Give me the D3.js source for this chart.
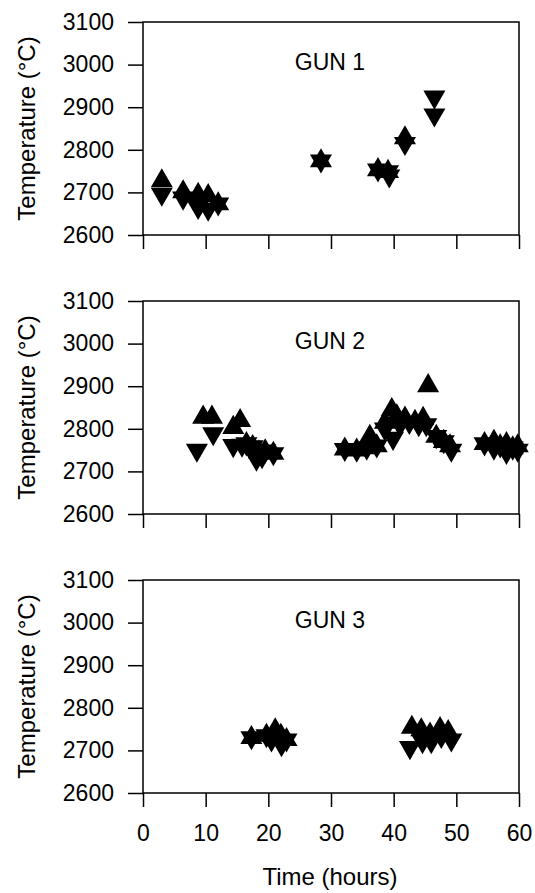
<!DOCTYPE html>
<html>
<head>
<meta charset="utf-8">
<script src="https://cdn.jsdelivr.net/npm/d3@7"></script>
<style>
    body { margin: 0; background: #fff; }
    text { font-family: "Liberation Sans", Arial, sans-serif; fill: #000; }
</style>
</head>
<body>
<div id="chart"></div>
<script>
// tick values
const timeTicks = [0, 10, 20, 30, 40, 50, 60];
const tempTicks = [2600, 2700, 2800, 2900, 3000, 3100];
const gunNames = ["GUN 1", "GUN 2", "GUN 3"];

// [time (h), temperature (C)] -- upward / downward triangles
const gun1Up = [[3.0, 2727], [6.4, 2701], [8.8, 2695], [10.4, 2692], [12.0, 2673],
    [28.4, 2774], [37.5, 2753], [39.1, 2749], [41.8, 2828]];
const gun1Down = [[3.0, 2696], [6.4, 2687], [8.8, 2665], [10.4, 2661], [12.0, 2673],
    [28.4, 2774], [37.5, 2753], [39.1, 2749], [39.3, 2739], [41.8, 2815], [46.5, 2924], [46.5, 2882]];

const gun2Up = [[9.6, 2827], [11.0, 2827], [14.4, 2803], [15.5, 2819], [16.5, 2765], [17.5, 2758],
    [18.5, 2745], [19.5, 2748], [20.8, 2742],
    [32.2, 2752], [34.1, 2750], [35.7, 2755], [36.2, 2782], [37.3, 2760], [38.6, 2815], [39.7, 2845],
    [40.5, 2830], [41.8, 2825], [43.4, 2817], [44.7, 2824], [45.5, 2901], [46.8, 2782], [48.0, 2770], [49.0, 2760],
    [54.5, 2765], [56.0, 2770], [57.0, 2760], [58.0, 2765], [59.0, 2755], [59.8, 2760]];
const gun2Down = [[8.6, 2750], [11.2, 2789], [14.4, 2761], [15.8, 2762], [16.5, 2765], [17.5, 2758],
    [18.1, 2729], [19.0, 2735], [19.5, 2748], [20.8, 2742],
    [32.2, 2752], [34.1, 2750], [35.7, 2755], [37.3, 2760], [38.6, 2800], [39.9, 2778], [41.0, 2810],
    [42.5, 2815], [44.0, 2810], [45.2, 2810], [46.8, 2782], [48.0, 2770], [49.2, 2750],
    [54.5, 2765], [56.0, 2755], [57.0, 2760], [58.0, 2745], [59.0, 2755], [59.8, 2750]];

const gun3Up = [[17.3, 2730], [19.7, 2735], [21.1, 2748], [22.0, 2735], [22.9, 2725],
    [42.9, 2754], [44.4, 2748], [45.8, 2738], [47.4, 2751], [48.7, 2744]];
const gun3Down = [[17.3, 2730], [19.7, 2735], [20.5, 2725], [22.1, 2714], [22.9, 2725],
    [42.6, 2707], [44.6, 2721], [46.0, 2721], [47.6, 2733], [49.2, 2725]];

const upSeries = [gun1Up, gun2Up, gun3Up];
const downSeries = [gun1Down, gun2Down, gun3Down];

const W = 535, H = 893;
const left = 143, right = 519;
const panelTops = [22, 301, 580];
const panelH = 213;

const svg = d3.select("#chart")
    .append("svg")
    .attr("width", W)
    .attr("height", H);

const x = d3.scaleLinear().domain([0, 60]).range([left, right]);
const tri = d3.symbol().type(d3.symbolTriangle).size(210);

panelTops.forEach((top, i) => {
    const y = d3.scaleLinear().domain([2600, 3100]).range([top + panelH, top]);
    const last = i === panelTops.length - 1;
    const g = svg.append("g").attr("class", "panel");

    // frame
    g.append("rect")
        .attr("x", left)
        .attr("y", top)
        .attr("width", right - left)
        .attr("height", panelH)
        .attr("fill", "none")
        .attr("stroke", "#000")
        .attr("stroke-width", 1.5);

    const yAxis = d3.axisLeft(y)
        .tickValues(tempTicks)
        .tickSize(15)
        .tickSizeOuter(0)
        .tickPadding(14)
        .tickFormat(d3.format("d"));
    g.append("g")
        .attr("transform", `translate(${left},0)`)
        .call(yAxis);

    const xAxis = d3.axisBottom(x)
        .tickValues(timeTicks)
        .tickSize(14)
        .tickSizeOuter(0)
        .tickPadding(18)
        .tickFormat(last ? d3.format("d") : "");
    g.append("g")
        .attr("transform", `translate(0,${top + panelH})`)
        .call(xAxis);

    g.selectAll(".domain").remove();
    g.selectAll(".tick line").attr("stroke", "#000").attr("stroke-width", 1.5);
    g.selectAll(".tick text")
        .style("font-size", "23px")
        .style("font-family", '"Liberation Sans", Arial, sans-serif');

    // axis title
    g.append("text")
        .attr("transform", `translate(35,${top + panelH / 2}) rotate(-90)`)
        .attr("text-anchor", "middle")
        .style("font-size", "24px")
        .text("Temperature (°C)");

    g.append("text")
        .attr("x", 330)
        .attr("y", top + 48)
        .attr("text-anchor", "middle")
        .style("font-size", "23px")
        .text(gunNames[i]);

    g.append("g").selectAll("path")
        .data(upSeries[i])
        .enter()
        .append("path")
        .attr("d", tri)
        .attr("transform", d => `translate(${x(d[0])},${y(d[1])})`)
        .attr("fill", "#000");

    g.append("g").selectAll("path")
        .data(downSeries[i])
        .enter()
        .append("path")
        .attr("d", tri)
        .attr("transform", d => `translate(${x(d[0])},${y(d[1])}) rotate(180)`)
        .attr("fill", "#000");
});

svg.append("text")
    .attr("x", 330)
    .attr("y", 885)
    .attr("text-anchor", "middle")
    .style("font-size", "24px")
    .text("Time (hours)");
</script>
</body>
</html>
